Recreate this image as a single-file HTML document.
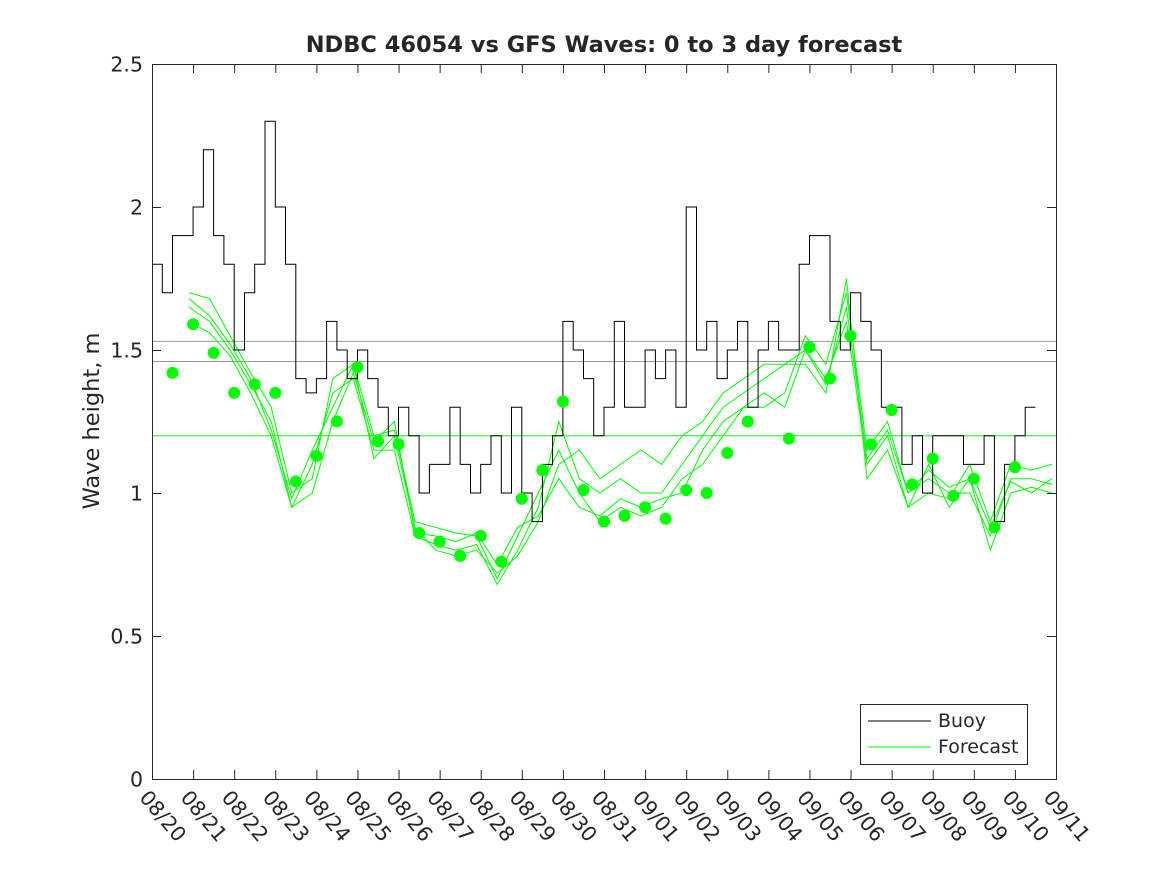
<!DOCTYPE html>
<html><head><meta charset="utf-8"><style>
body{margin:0;background:#fff;}
svg text{font-family:"DejaVu Sans","Liberation Sans",sans-serif;fill:#262626;}
</style></head><body>
<svg id="chart" width="1167" height="875">
<rect width="1167" height="875" fill="#fff"/>
<text x="604" y="52" text-anchor="middle" font-size="22.5" font-weight="bold" fill="#000">NDBC 46054 vs GFS Waves: 0 to 3 day forecast</text>
<text transform="translate(99,421) rotate(-90)" text-anchor="middle" font-size="22.5">Wave height, m</text>
<g id="plot"></g>
<g id="axes"></g>
<g>
<rect x="860.5" y="704.5" width="167" height="60" fill="#fff" stroke="#262626"/>
<line x1="868" y1="721" x2="931" y2="721" stroke="#000"/>
<text x="938" y="727" font-size="19">Buoy</text>
<line x1="868" y1="747" x2="931" y2="747" stroke="#00ff00"/>
<text x="938" y="753" font-size="19">Forecast</text>
</g>
</svg>
<script>
const dayLabels=["08/20","08/21","08/22","08/23","08/24","08/25","08/26","08/27","08/28","08/29","08/30","08/31","09/01","09/02","09/03","09/04","09/05","09/06","09/07","09/08","09/09","09/10","09/11"];
const yTicks=[0,0.5,1,1.5,2,2.5];
const buoyVals=[1.8,1.7,1.9,1.9,2.0,2.2,1.9,1.8,1.5,1.7,1.8,2.3,2.0,1.8,1.4,1.35,1.4,1.6,1.5,1.4,1.5,1.4,1.3,1.2,1.3,1.2,1.0,1.1,1.1,1.3,1.1,1.0,1.1,1.2,1.0,1.3,1.0,0.9,1.1,1.2,1.6,1.5,1.4,1.2,1.3,1.6,1.3,1.3,1.5,1.4,1.5,1.3,2.0,1.5,1.6,1.4,1.5,1.6,1.3,1.5,1.6,1.5,1.5,1.8,1.9,1.9,1.6,1.5,1.7,1.6,1.5,1.3,1.3,1.1,1.2,1.0,1.2,1.2,1.2,1.1,1.1,1.2,0.9,1.1,1.2,1.3];
const buoyStart=0, buoyStep=0.25;
const dotDays=[0.5,1,1.5,2,2.5,3,3.5,4,4.5,5,5.5,6,6.5,7,7.5,8,8.5,9,9.5,10,10.5,11,11.5,12,12.5,13,13.5,14,14.5,15.5,16,16.5,17,17.5,18,18.5,19,19.5,20,20.5,21];
const dotVals=[1.42,1.59,1.49,1.35,1.38,1.35,1.04,1.13,1.25,1.44,1.18,1.17,0.86,0.83,0.78,0.85,0.76,0.98,1.08,1.32,1.01,0.90,0.92,0.95,0.91,1.01,1.00,1.14,1.25,1.19,1.51,1.40,1.55,1.17,1.29,1.03,1.12,0.99,1.05,0.88,1.09];
const fcStart=0.9, fcStep=0.5;
const fc1=[1.70,1.68,1.55,1.42,1.30,1.00,1.05,1.40,1.45,1.20,1.22,0.90,0.88,0.86,0.85,0.70,0.85,1.00,1.15,1.00,0.90,0.95,0.92,0.95,1.05,1.10,1.20,1.30,1.30,1.35,1.55,1.45,1.70,1.15,1.25,1.00,1.05,1.00,1.00,0.85,1.05,1.05,1.03];
const fc2=[1.65,1.60,1.50,1.38,1.25,0.95,1.10,1.35,1.40,1.15,1.15,0.85,0.82,0.80,0.82,0.68,0.80,0.95,1.25,1.05,1.00,1.05,1.00,1.00,1.10,1.20,1.30,1.35,1.40,1.45,1.50,1.40,1.60,1.10,1.20,0.95,1.10,0.95,1.05,0.80,1.00,1.02,1.00];
const fc3=[1.68,1.62,1.52,1.40,1.22,0.98,1.15,1.30,1.45,1.12,1.20,0.88,0.80,0.78,0.80,0.72,0.78,0.90,1.10,1.15,1.05,1.10,1.15,1.10,1.20,1.25,1.35,1.40,1.45,1.45,1.45,1.35,1.75,1.05,1.15,0.95,1.00,0.98,1.10,0.90,1.10,1.08,1.10];
const fc4=[1.60,1.56,1.48,1.35,1.20,0.95,1.00,1.25,1.42,1.18,1.25,0.86,0.85,0.83,0.86,0.75,0.88,0.92,1.05,0.95,0.92,0.98,0.95,0.98,1.00,1.15,1.25,1.30,1.35,1.30,1.50,1.38,1.65,1.12,1.22,1.00,1.08,1.02,1.05,0.88,1.04,1.00,1.05];
const hLinesGray=[1.53,1.46];
const hLineGreen=1.2;

const X0=152,X1=1056,Y0=779,Y1=64;
const xs=d=>X0+(X1-X0)*d/22;
const ys=v=>Y0-(Y0-Y1)*v/2.5;
const NS="http://www.w3.org/2000/svg";
const plot=document.getElementById('plot'), axes=document.getElementById('axes');
function mk(tag,attrs,parent){const e=document.createElementNS(NS,tag);for(const k in attrs)e.setAttribute(k,attrs[k]);parent.appendChild(e);return e;}

hLinesGray.forEach(v=>{const l=mk('line',{x1:X0,x2:X1,y1:ys(v),y2:ys(v),stroke:'#999','stroke-width':1},plot);

});
const gl=mk('line',{x1:X0,x2:X1,y1:ys(hLineGreen),y2:ys(hLineGreen),stroke:'#00ff00','stroke-width':1},plot);



[fc1,fc2,fc3,fc4].forEach((s,i)=>{
 const p=s.map((v,j)=>xs(fcStart+j*fcStep).toFixed(1)+','+ys(v).toFixed(1)).join(' ');
 const pl=mk('polyline',{points:p,fill:'none',stroke:'#00ff00','stroke-width':1},plot);
 
 
});

let bp=[];
buoyVals.forEach((v,j)=>{const x0=xs(buoyStart+j*buoyStep),x1=xs(buoyStart+(j+1)*buoyStep);bp.push(x0.toFixed(1)+','+ys(v).toFixed(1));bp.push(x1.toFixed(1)+','+ys(v).toFixed(1));});
const bl=mk('polyline',{points:bp.join(' '),fill:'none',stroke:'#000','stroke-width':1},plot);



dotDays.forEach((d,j)=>{const c=mk('circle',{cx:xs(d),cy:ys(dotVals[j]),r:6,fill:'#00ff00'},plot);

});

const box=mk('rect',{x:X0+0.5,y:Y1+0.5,width:X1-X0,height:Y0-Y1,fill:'none',stroke:'#262626'},axes);


yTicks.forEach(v=>{const y=ys(v)+0.5;
 mk('line',{x1:X0,x2:X0+9,y1:y,y2:y,stroke:'#262626'},axes);
 mk('line',{x1:X1-9,x2:X1,y1:y,y2:y,stroke:'#262626'},axes);
 const t=mk('text',{x:X0-9,y:y+7,'text-anchor':'end','font-size':20.5},axes);t.textContent=v;
 
 });
dayLabels.forEach((lab,i)=>{const x=xs(i)+0.5;
 mk('line',{x1:x,x2:x,y1:Y0,y2:Y0-9,stroke:'#262626'},axes);
 mk('line',{x1:x,x2:x,y1:Y1,y2:Y1+9,stroke:'#262626'},axes);
 const t=mk('text',{transform:`translate(${x-14},${Y0+19}) rotate(50)`,'font-size':20.5},axes);t.textContent=lab;
 
 });
</script>
</body></html>
